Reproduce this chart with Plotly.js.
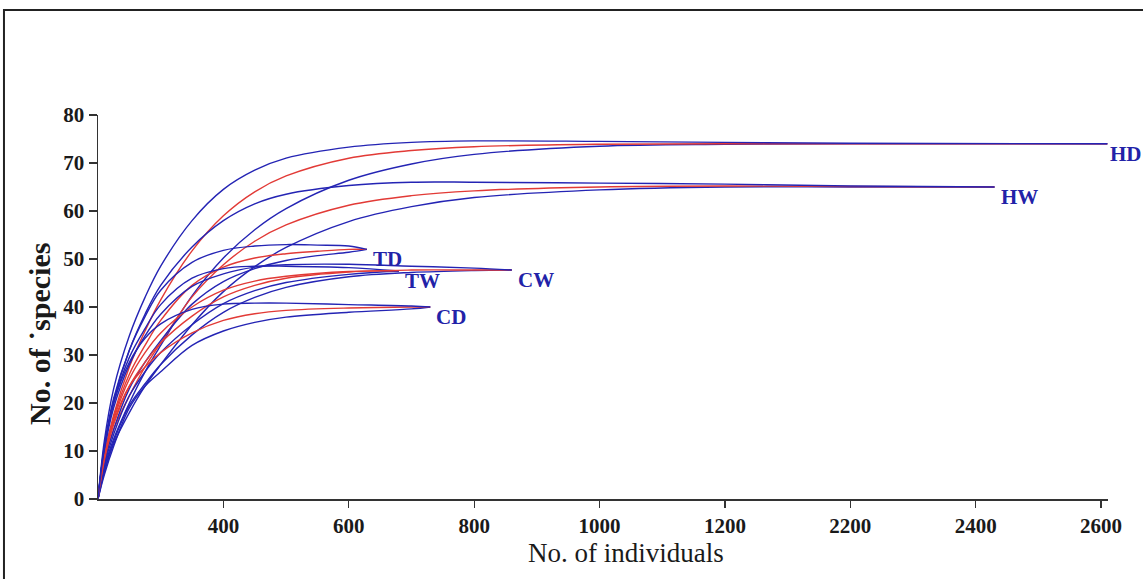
<!DOCTYPE html>
<html>
<head>
<meta charset="utf-8">
<script src="https://cdn.plot.ly/plotly-3.0.1.min.js"></script>
<style>html,body{margin:0;padding:0;background:#fff;}#chart{width:1143px;height:579px;}</style>
</head>
<body>
<div id="chart"></div>
<script>
// ---- data (No. of individuals on x, No. of species on y) ----
const siteNames = ["HD", "HW", "TD", "TW", "CW", "CD"];

const HD_x     = [200,210,225,250,275,300,350,400,450,500,600,700,800,1000,1200,2200,2610];
const HD_upper = [0,12,23,34,42,48.5,58,64.5,68.5,71,73.3,74.3,74.6,74.5,74.3,74.1,74];
const HD_mean  = [0,9,17.5,27.5,35,41.5,51.7,59,64,67.3,71,72.6,73.4,73.9,74,74,74];
const HD_lower = [0,6.5,12.5,20,26.5,32,42.3,50.2,56.1,60.5,66.4,69.8,71.8,73.5,73.9,74,74];

const HW_x     = [200,210,225,250,275,300,350,400,450,500,600,700,800,1000,1200,2200,2430];
const HW_upper = [0,10.5,20.5,31,38.5,44.5,52.5,58,61.5,63.5,65.3,66,66,65.8,65.6,65.2,65];
const HW_mean  = [0,8,14.5,21.5,27.5,32.5,42.1,48.8,53.7,57.1,61.2,63.2,64.2,65,65.2,65.1,65];
const HW_lower = [0,5.5,11.5,18,23.5,28,36.3,43.2,48.4,52.4,57.8,60.9,62.8,64.4,65,65,65];

const TD_x     = [200,210,225,250,275,300,350,400,450,500,550,600,629];
const TD_upper = [0,11,21,31,38,43.5,49.3,51.8,52.7,53,52.9,52.7,52];
const TD_mean  = [0,9,17,26,32,37.2,44.5,48.3,50.2,51.1,51.6,52,52];
const TD_lower = [0,7.5,14.5,23,28.5,33,40.6,45.3,48,49.7,50.7,51.4,52];

const TW_x     = [200,210,225,250,275,300,350,400,450,500,600,680];
const TW_upper = [0,10.5,20,29.5,35.5,40.5,46,48,48.5,48.5,48.2,47.5];
const TW_mean  = [0,8.5,16.5,25,30.5,34.6,40,43.5,45.4,46.4,47.4,47.5];
const TW_lower = [0,7,13.5,21.5,26.5,30.5,36.3,40.7,43.4,45.1,46.8,47.5];

const CW_x     = [200,210,225,250,275,300,350,400,450,500,600,700,800,860];
const CW_upper = [0,10,19,28,34,38.5,44.3,46.9,48.3,48.8,48.9,48.5,48.1,47.7];
const CW_mean  = [0,8,15.5,23.5,28.5,32.5,38.1,42.1,44.5,46,47.3,47.7,47.7,47.7];
const CW_lower = [0,6,12,19.5,24,28,34.2,38.9,42,44.1,46.3,47.2,47.6,47.7];

const CD_x     = [200,210,225,250,275,300,350,400,450,500,600,700,730];
const CD_upper = [0,10.5,20,28.5,33.5,36.5,39.5,40.6,40.8,40.8,40.5,40.2,40];
const CD_mean  = [0,8.5,16,23.5,27.5,30.5,34.6,37.2,38.6,39.3,39.8,40,40];
const CD_lower = [0,5,11,19,23.5,26.5,32,35,36.8,37.9,38.9,39.6,40];

const xTickLabels = [400,600,800,1000,1200,2200,2400,2600];
const yTickValues = [0,10,20,30,40,50,60,70,80];

// ---- axis break: 1200..2200 is compressed into one tick interval ----
function brk(x) {
  if (x <= 1200) return x;
  if (x <= 2200) return 1200 + (x - 1200) * 0.2;
  return 1400 + (x - 2200);
}

const sites = {
  HD: {x: HD_x, lower: HD_lower, mean: HD_mean, upper: HD_upper},
  HW: {x: HW_x, lower: HW_lower, mean: HW_mean, upper: HW_upper},
  TD: {x: TD_x, lower: TD_lower, mean: TD_mean, upper: TD_upper},
  TW: {x: TW_x, lower: TW_lower, mean: TW_mean, upper: TW_upper},
  CW: {x: CW_x, lower: CW_lower, mean: CW_mean, upper: CW_upper},
  CD: {x: CD_x, lower: CD_lower, mean: CD_mean, upper: CD_upper}
};

const BLUE = "#2424b4";
const RED = "#e23a36";
const LABEL = "#2222a8";
const serif = "Liberation Serif, Times New Roman, serif";

const traces = [];
const annotations = [];
siteNames.forEach(name => {
  const s = sites[name];
  const xs = s.x.map(brk);
  [["lower", BLUE], ["mean", RED], ["upper", BLUE]].forEach(([k, c]) => {
    traces.push({
      x: xs, y: s[k], type: "scatter", mode: "lines", name: name + " " + k,
      line: {color: c, width: 1.4, shape: "spline", smoothing: 1},
      hoverinfo: "skip", showlegend: false
    });
  });
  annotations.push({
    x: xs[xs.length - 1], y: s.mean[s.mean.length - 1], xref: "x", yref: "y",
    text: name, showarrow: false, xanchor: "left", yanchor: "middle",
    xshift: name === "HD" ? 1 : 4, yshift: -10,
    font: {family: serif, size: 21, color: LABEL, weight: 700}
  });
});

annotations.push({
  text: "No. of individuals", xref: "paper", yref: "paper",
  x: 0.5228, y: -0.1406, xanchor: "center", yanchor: "middle", showarrow: false,
  font: {family: serif, size: 27, color: "#1a1a1a"}
});
annotations.push({
  text: "No. of \u02D9species", xref: "paper", yref: "paper",
  x: -0.0574, y: 0.4297, xanchor: "center", yanchor: "middle", showarrow: false,
  textangle: -90,
  font: {family: serif, size: 30, color: "#1a1a1a", weight: 700}
});

const layout = {
  width: 1143, height: 579,
  margin: {l: 98, r: 35, t: 115, b: 80, pad: 0},
  paper_bgcolor: "#ffffff", plot_bgcolor: "#ffffff",
  showlegend: false, hovermode: false,
  xaxis: {
    range: [200, 1811], showgrid: false, zeroline: false,
    showline: true, linecolor: "#333", linewidth: 1.5,
    ticks: "outside", ticklen: 7, tickwidth: 1.2, tickcolor: "#333",
    tickvals: xTickLabels.map(brk), ticktext: xTickLabels.map(String),
    tickfont: {family: serif, size: 21, color: "#1a1a1a", weight: 700}
  },
  yaxis: {
    range: [0, 80], showgrid: false, zeroline: false,
    showline: true, linecolor: "#333", linewidth: 1.5,
    ticks: "outside", ticklen: 8, tickwidth: 1.2, tickcolor: "#333",
    tickvals: yTickValues, ticktext: yTickValues.map(String),
    tickfont: {family: serif, size: 21, color: "#1a1a1a", weight: 700}
  },
  annotations: annotations,
  shapes: [{
    type: "rect", xref: "paper", yref: "paper",
    x0: -0.0931, x1: 1.06, y0: -0.25, y1: 1.2734,
    line: {color: "#222", width: 2}, fillcolor: "rgba(0,0,0,0)", layer: "below"
  }]
};

Plotly.newPlot("chart", traces, layout, {staticPlot: true, displayModeBar: false});
</script>
</body>
</html>
